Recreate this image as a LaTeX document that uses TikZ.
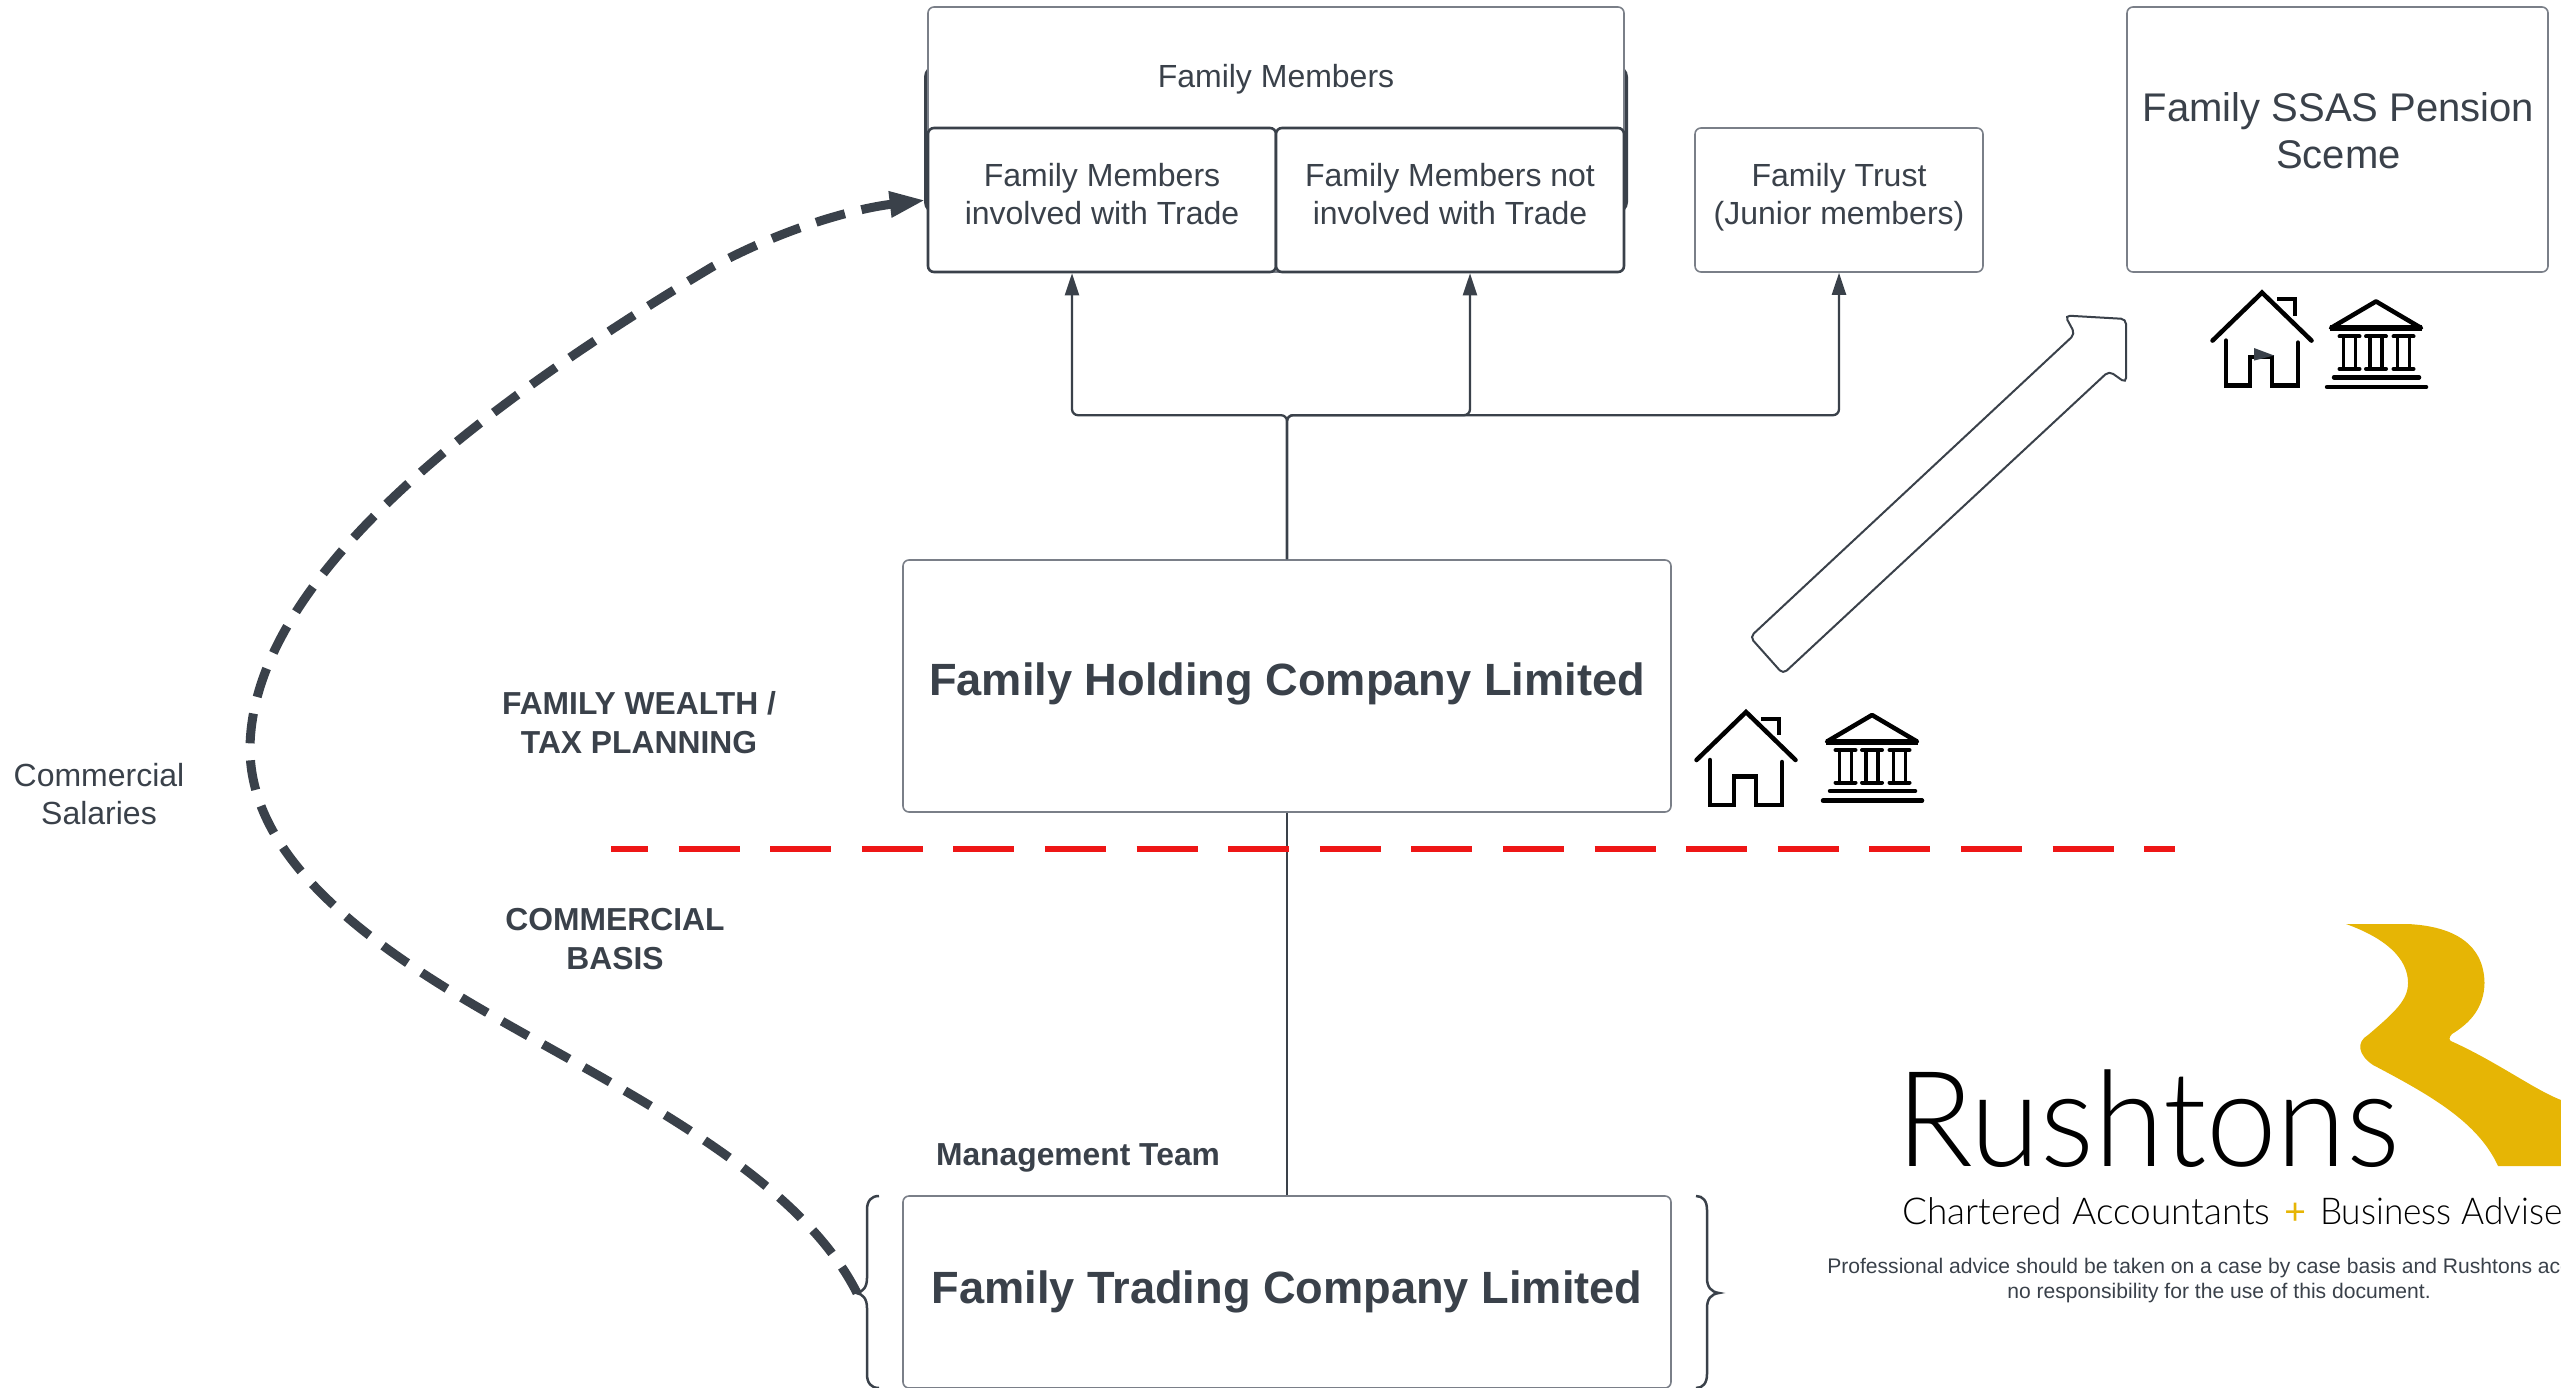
\documentclass[tikz,border=0pt]{standalone}
\usepackage{fontspec}
\setmainfont{Liberation Sans}
\newfontfamily\logofont[UprightFont={* Light},FakeStretch=0.953]{Lato}
\newfontfamily\straplinefont[UprightFont={* Light}]{Lato}
\usetikzlibrary{arrows.meta}
\definecolor{slate}{HTML}{3A414A}
\definecolor{edge}{HTML}{7A7F88}
\definecolor{gold}{HTML}{E6B505}
\definecolor{cutline}{HTML}{EE1616}
\tikzset{%
    houseicon/.pic={%
        \draw [line width=4.5pt,line cap=round] (-49.5,48)--(0,0)--(49.5,48);
        \draw [line width=4.5pt,line cap=round] (-36,48)--(-36,93)--(-12,93)--(-12,64.5)--(10,64.5)--(10,93)--(36,93)--(36,50);
        \draw [line width=4pt] (15,6.5)--(33,6.5)--(33,23);
    },%
    bankicon/.pic={%
        \draw [line width=4.5pt,line join=round] (0,0)--(-45,26.5)--(45,26.5)--cycle;
        \draw [line width=6pt] (-46,27)--(46,27);
        \foreach \col in {-26.5,0,27.5} {
            \draw [line width=4pt,line cap=round] (\col-10,35)--(\col+10,35);
            \draw [line width=4pt,line cap=round] (\col-10,67.5)--(\col+10,67.5);
            \draw [line width=3.5pt] (\col-6,35)--(\col-6,67.5);
            \draw [line width=3.5pt] (\col+6,35)--(\col+6,67.5);
        }
        \draw [line width=4.5pt,line cap=round] (-42,76)--(43,76);
        \draw [line width=4.5pt,line cap=round] (-49,85.6)--(50,85.6);
    }%
}
\begin{document}
\begin{tikzpicture}[%
        x=1pt,y=-1pt,%
        plainbox/.style={%
            rectangle,%
            rounded corners=6pt,%
            draw=edge,%
            line width=1.6pt,%
            fill=white,%
            inner sep=0pt%
        },%
        trunkbox/.style={%
            plainbox,%
            draw=slate,%
            line width=2.6pt%
        },%
        boxtext/.style={%
            align=center,%
            text=slate,%
            font=\fontsize{32}{38}\selectfont%
        },%
        titletext/.style={%
            text=slate,%
            font=\fontsize{45.2}{54}\bfseries\selectfont%
        },%
        boldnote/.style={%
            align=center,%
            text=slate,%
            font=\fontsize{31.8}{38.5}\bfseries\selectfont%
        },%
        link/.style={%
            draw=slate,%
            line width=2.3pt,%
            rounded corners=6pt,%
            -{Triangle[length=22pt,width=14pt]}%
        },%
        salary/.style={%
            draw=slate,%
            line width=9pt,%
            dash pattern=on 30pt off 17pt,%
            -{Triangle[length=36pt,width=24pt]}%
        }%
    ]
    \useasboundingbox (0,0) rectangle (2561,1388);
    \clip (0,0) rectangle (2561,1388);
    % family boxes
    \draw [draw=slate,line width=4pt,rounded corners=10pt] (926,67) rectangle (1626,212);
    \node (members) at (1276,139.5) [plainbox,minimum width=696pt,minimum height=265pt,label={[boxtext,yshift=60pt]center:Family Members}] {};
    \node (involved) at (1102,200) [trunkbox,minimum width=348pt,minimum height=144pt,label={[boxtext,yshift=6pt]center:Family Members\\involved with Trade}] {};
    \node (notinvolved) at (1450,200) [trunkbox,minimum width=348pt,minimum height=144pt,label={[boxtext,yshift=6pt]center:Family Members not\\involved with Trade}] {};
    \node (trust) at (1839,200) [plainbox,minimum width=288pt,minimum height=144pt,label={[boxtext,yshift=3pt]center:Family Trust\\(Junior members)}] {};
    \node (ssas) at (2337.5,139.5) [plainbox,minimum width=421pt,minimum height=265pt,label={[boxtext,yshift=9pt,xshift=1pt,font=\fontsize{40}{47}\selectfont]center:Family SSAS Pension\\Sceme}] {};
    % companies
    \node (holding) at (1287,686) [plainbox,minimum width=768pt,minimum height=252pt,label={[titletext,yshift=2.2pt]center:Family Holding Company Limited}] {};
    \node (trading) at (1287,1292) [plainbox,minimum width=768pt,minimum height=192pt,label={[titletext]center:Family Trading Company Limited}] {};
    % connectors
    \draw [link] (holding.north) -- ++(0,-144) -| ([xshift=-30pt]involved.south);
    \draw [link] (holding.north) -- ++(0,-144) -| ([xshift=20pt]notinvolved.south);
    \draw [link] (holding.north) -- ++(0,-144) -| (trust.south);
    \draw [draw=slate,line width=2.3pt] (holding.south) -- (trading.north);
    % braces
    \draw [draw=slate,line width=2.5pt] (879,1196) .. controls (871,1196) and (867,1201) .. (867,1210) -- (867,1278) .. controls (867,1287) and (863,1292) .. (856.5,1293) .. controls (863,1294) and (867,1299) .. (867,1308) -- (867,1374) .. controls (867,1383) and (871,1388) .. (879,1388);
    \draw [draw=slate,line width=2.5pt] (1696,1196) .. controls (1703,1196) and (1707,1201) .. (1707,1210) -- (1707,1278) .. controls (1707,1287) and (1711,1292) .. (1719,1293) .. controls (1711,1294) and (1707,1299) .. (1707,1308) -- (1707,1374) .. controls (1707,1383) and (1703,1388) .. (1696,1388);
    \coordinate (bracetip) at (857,1293);
    % salaries
    \draw [salary,shorten >=1pt] (bracetip) .. controls (795,1170) and (610,1085) .. (474,1005) .. controls (350,932) and (250,850) .. (250,748) .. controls (252,575) and (490,400) .. (712,267) .. controls (790,225) and (860,208) .. (involved.west);
    % divider
    \draw [draw=cutline,line width=6pt,dash pattern=on 61pt off 30.6pt,dash phase=24pt] (611,848.7) -- (2175,848.7);
    % labels
    \node (wealth) at (639,722.5) [boldnote]{FAMILY WEALTH /\\TAX PLANNING};
    \node (basis) at (615,939) [boldnote]{COMMERCIAL\\BASIS};
    \node (salaries) at (99,794.5) [boxtext]{Commercial\\Salaries};
    \node (team) at (1078,1165) [boldnote,anchor=base]{Management Team};
    % hollow arrow
    \draw [draw=slate,line width=2pt,rounded corners=5pt] (1750,637)--(1783,674)--(2109,371)--(2126,383)--(2126,319)--(2065,315.5)--(2075,334)--cycle;
    % icons
    \pic (housetop) at (2262,292.6) {houseicon};
    \pic (banktop) at (2376,301.4) {bankicon};
    \pic (houselow) at (1746,712) {houseicon};
    \pic (banklow) at (1872,715) {bankicon};
    \fill [slate] (2254,348)--(2274,355.5)--(2254,360.6)--cycle;
    % logo
    \fill [gold] (2346,924) -- (2407,924) .. controls (2455,926) and (2484,945) .. (2484.5,983) .. controls (2484,1008) and (2470,1023) .. (2452,1034) .. controls (2448,1038) and (2449,1041) .. (2453,1042) .. controls (2497,1062) and (2535,1090) .. (2561,1100) -- (2561,1166) -- (2498,1166) .. controls (2478,1122) and (2430,1095) .. (2373,1065) .. controls (2358,1055) and (2356,1042) .. (2368,1035) .. controls (2395,1012) and (2408,1000) .. (2408,983) .. controls (2408,958) and (2385,938) .. (2346,924) -- cycle;
    \node (rushtons) at (1896,1166) [anchor=base west,inner sep=0pt,font=\fontsize{133}{140}\logofont]{Rushtons};
    \node (strapline) at (1902,1224) [anchor=base west,inner sep=0pt,font=\fontsize{37}{44}\straplinefont]{Chartered Accountants\hspace{4pt} {\color{gold}\rmfamily +}\hspace{4pt} {\logofont Business Advisers}};
    \node (disclaimer) at (2219,1280.5) [boxtext,font=\fontsize{21.1}{25.7}\selectfont]{Professional advice should be taken on a case by case basis and Rushtons accepts\\no responsibility for the use of this document.};
\end{tikzpicture}
\end{document}
